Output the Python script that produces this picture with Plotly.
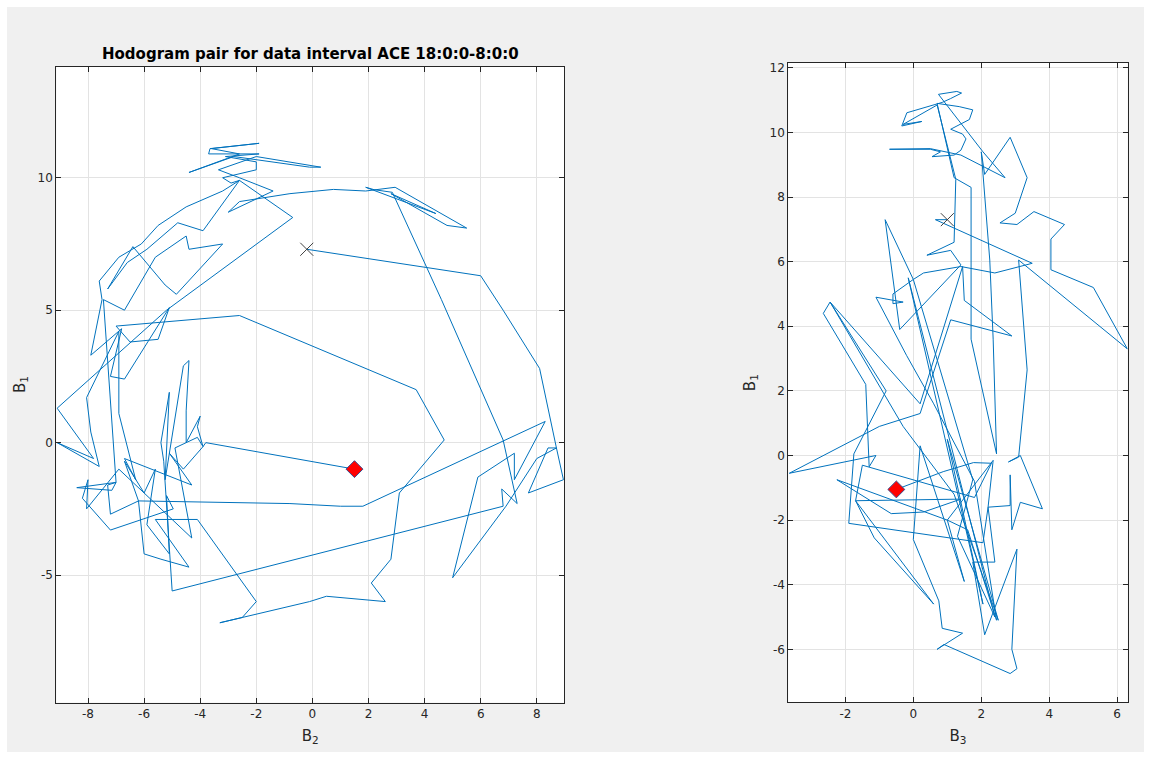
import plotly.graph_objects as go

# ---- hodogram data (nT) -------------------------------------------------
# left panel: B2 (x) against B1 (y)
b2 = [
    -0.2, 6.0, 6.8, 8.1, 8.7, 8.95, 7.7, 8.4, 8.7, 8.0, 6.9, 5.0, 5.9, 7.2, 7.2, 8.3,
    1.8, 1.0, -0.8, -6.2, -6.0, -5.4, -4.4, -5.6, -4.1, -2.0, -2.5, -3.3, -0.1, 0.5,
    2.6, 2.1, 2.8, 3.1, 4.7, 3.7, -2.6, -7.0, -6.5, -5.5, -5.1, -6.7, -7.2, -6.8,
    -7.9, -7.5, -7.6, -6.9, -6.1, -5.5, -4.5, -3.2, -2.6, -2.9, -3.2, -2.0, -2.0,
    -3.1, -1.9, -3.7, -3.65, -1.9, -3.6, -2.6, -4.4, -2.8, -0.1, 0.3, -2.0, -3.35,
    -2.6, -1.4, -3.0, -2.6, -0.8, 0.75, 1.9, 2.95, 5.5, 4.8, 2.8, 4.4, 1.9, 2.2,
    2.85, 4.6, 6.8, 7.3, 6.75, 6.8, -5.0, -5.3, -5.4, -5.1, -5.25, -4.6, -4.4, -4.5,
    -4.5, -4.0, -4.1, -3.9, -4.6, -5.1, -4.3, -6.7, -6.3, -6.9, -6.9, -8.05, -7.9,
    -7.6, -9.1, -7.8, -9.1, -5.2, -0.7, -2.6, -3.9, -4.8, -5.9, -6.6, -7.3, -6.4,
    -5.25, -4.85, -3.2, -4.4, -4.5, -5.6, -6.7, -7.45, -7.0, -8.4, -7.15, -7.0,
    -7.3, -7.2, -6.2, -6.7, -6.0, -5.6, -5.9, -5.1, -5.2, -4.96, -7.2, -8.2, -8.0,
    -8.05, -6.9, -4.3, -4.9, -4.1, -3.9, -3.8, 1.5,
]
b1_left = [
    7.3, 6.3, 5.0, 2.8, -0.2, -1.4, -1.9, -0.2, -0.2, -0.6, -2.4, -5.1, -1.3, -0.4,
    -1.4, 0.8, -2.4, -2.4, -2.3, -2.2, -4.2, -4.4, -4.7, -2.9, -2.9, -6.0, -6.6, -6.8,
    -6.0, -5.8, -6.0, -5.3, -4.4, -1.9, 0.1, 2.0, 4.8, 4.4, 3.8, 3.9, 5.1, 2.4, 2.5,
    4.3, 3.3, 5.4, 6.1, 7.0, 7.5, 8.2, 8.9, 9.5, 9.9, 9.8, 10.0, 10.3, 10.6, 10.8,
    10.9, 10.9, 11.1, 11.3, 11.1, 10.9, 10.2, 10.8, 10.4, 10.4, 10.8, 10.3, 10.0,
    9.5, 8.7, 9.1, 9.4, 9.56, 9.5, 9.64, 8.1, 8.2, 9.4, 8.65, 9.64, 9.55, 9.45, 5.4,
    0.1, -2.3, -1.75, -2.4, -5.6, -0.7, 0.0, 1.9, -1.4, 2.9, 3.1, 1.2, 0.0, 1.0, 0.6,
    -0.15, -1.0, -0.4, -1.6, -0.6, -1.4, 1.1, 4.2, 1.7, 0.4, -0.9, 0.0, -0.6, 1.3,
    5.0, 8.5, 9.9, 8.0, 8.3, 7.3, 6.8, 5.8, 7.4, 5.95, 5.6, 7.5, 7.3, 7.8, 7.0, 5.0,
    5.4, -1.5, -1.7, -1.8, -1.5, -1.6, -2.7, -2.2, -0.7, -1.9, -1.0, -3.1, -4.2, -2.0,
    -2.5, -3.3, -2.1, -1.4, -2.5, -1.0, -3.6, -0.2, 0.2, -0.15, 0.0, -1.0,
]

# right panel: B3 (x) against B1 (y)
b3 = [
    1.0, 0.65, 3.5, 2.4, 1.4, 0.3, 0.0, -0.6, -0.6, -0.3,
    -1.1, -0.2, 0.6, 1.8, 2.45, 1.6, 1.0, 1.5, 0.2, 0.0,
    0.75, 0.85, 1.45, 0.7, 0.9, 2.85, 3.05, 2.9, 3.05, 2.1,
    1.75, 2.4, 2.2, 2.85, 2.85, 2.9, 3.15, 3.8, 3.15, 2.8,
    3.1, 3.35, 3.1, 6.3, 5.3, 4.05, 4.05, 4.45, 3.55, 3.05,
    2.55, 3.0, 3.35, 2.85, 2.1, 2.0, 2.25, 2.35, 2.45, 1.7,
    1.7, 1.2, 0.7, 1.35, 1.75, 1.65, 1.1, 1.45, 1.55, 1.4,
    1.2, 0.55, 0.8, 0.5, -0.7, 0.5, 1.4, 2.7, 2.05, 0.9,
    0.74, 1.28, 1.42, 1.1, 0.85, -0.19, -0.34, 0.25, -0.3, 0.7,
    1.25, 1.2, 0.4, 1.1, 1.4, -0.4, -0.83, 0.0, 1.75, 1.3,
    2.4, -0.15, 2.05, 1.0, 2.5, 1.2, -0.3, -2.45, -2.65, -1.4,
    -1.3, -1.1, -3.65, -1.0, 0.2, 1.1, 2.9, 1.5, 1.45, 0.2,
    -2.45, -0.8, -1.75, -1.9, 2.05, 2.2, 2.35, 1.0, -2.25, -0.65,
    0.3, 1.4, -1.7, -1.15, 0.6, -1.7, -1.5, 1.8, 2.3, 1.77,
    0.88, -0.5,
]
b1_right = [
    7.3, 7.3, 5.95, 5.65, 5.85, 5.65, 5.45, 5.0, 4.7, 4.75,
    4.9, 3.1, 1.6, -0.8, -5.1, -2.3, -2.0, -3.9, 0.3, -2.6,
    -4.5, -5.35, -5.5, -6.0, -5.85, -6.75, -6.6, -6.0, -2.9, -5.55,
    -3.3, -3.3, -1.6, -1.55, -0.6, -2.3, -1.45, -1.65, 0.0, -0.2,
    -0.05, 2.65, 6.05, 3.3, 5.2, 5.75, 6.7, 7.15, 7.55, 7.15,
    7.2, 7.5, 8.6, 9.85, 8.7, 9.4, 6.05, 3.6, 0.05, 3.6,
    8.3, 8.6, 10.9, 10.8, 10.7, 10.4, 10.1, 9.95, 9.8, 9.45,
    9.3, 9.25, 9.4, 9.48, 9.48, 9.5, 9.3, 8.6, 9.4, 10.95,
    11.18, 11.27, 11.22, 11.05, 10.93, 10.61, 10.2, 10.34, 10.25, 10.85,
    8.55, 6.6, 6.2, 6.35, 5.9, 3.9, 7.3, 5.45, -0.75, -2.5,
    -5.0, 5.5, -4.6, 0.5, -5.1, -1.2, 0.9, 4.75, 4.4, 2.2,
    -0.35, 0.0, -0.55, 0.9, 1.3, 4.2, 3.7, 4.8, 5.85, 1.6,
    4.75, 2.0, 0.05, -2.1, -2.7, -1.6, -0.15, -2.0, -0.75, -1.8,
    -1.75, -1.35, -1.4, -2.55, -4.6, -1.4, -0.3, -1.3, -0.24, -0.22,
    -0.5, -1.05,
]

left_xticks = [-8, -6, -4, -2, 0, 2, 4, 6, 8]
left_yticks = [-5, 0, 5, 10]
right_xticks = [-2, 0, 2, 4, 6]
right_yticks = [-6, -4, -2, 0, 2, 4, 6, 8, 10, 12]

TITLE = "Hodogram pair for data interval ACE 18:0:0-8:0:0"

LINE_BLUE = "#0072BD"
AX_COLOR = "#262626"
FONT = "DejaVu Sans"
W, H = 1151, 759

fig = go.Figure()


def add_hodogram(xs, ys, xa, ya):
    fig.add_trace(go.Scatter(x=xs, y=ys, mode="lines", xaxis=xa, yaxis=ya,
                             line=dict(color=LINE_BLUE, width=1),
                             hoverinfo="skip", showlegend=False))
    # start of interval
    fig.add_trace(go.Scatter(x=[xs[0]], y=[ys[0]], mode="markers", xaxis=xa, yaxis=ya,
                             marker=dict(symbol="x-thin", size=13,
                                         line=dict(color="#404040", width=1)),
                             showlegend=False))
    # end of interval
    fig.add_trace(go.Scatter(x=[xs[-1]], y=[ys[-1]], mode="markers", xaxis=xa, yaxis=ya,
                             marker=dict(symbol="diamond", size=13, color="#ff0000",
                                         line=dict(color="#3b4a8c", width=1)),
                             showlegend=False))


add_hodogram(b2, b1_left, "x", "y")
add_hodogram(b3, b1_right, "x2", "y2")


def axis_style(tickvals, rng, domain, anchor, title, standoff):
    return dict(
        domain=domain, range=rng, anchor=anchor, tickmode="array", tickvals=tickvals,
        ticktext=[str(v) for v in tickvals],
        ticks="inside", ticklen=5, tickwidth=1, tickcolor=AX_COLOR,
        showline=True, linecolor=AX_COLOR, linewidth=1, mirror="ticks",
        showgrid=True, gridcolor="#e3e3e3", gridwidth=1, zeroline=False,
        tickfont=dict(family=FONT, size=12, color=AX_COLOR),
        title=dict(text=title, font=dict(family=FONT, size=15, color=AX_COLOR),
                   standoff=standoff),
        automargin=False, fixedrange=True,
    )


fig.update_layout(
    width=W, height=H,
    margin=dict(l=0, r=0, t=0, b=0),
    paper_bgcolor="#f0f0f0", plot_bgcolor="#ffffff",
    xaxis=axis_style(left_xticks, [-9.13, 8.97], [56.3 / W, 564 / W], "y",
                     "B<sub>2</sub>", 10),
    yaxis=axis_style(left_yticks, [-9.81, 14.2], [1 - 702.5 / H, 1 - 66.5 / H], "x",
                     "B<sub>1</sub>", 8),
    xaxis2=axis_style(right_xticks, [-3.68, 6.31], [788.3 / W, 1127.7 / W], "y2",
                      "B<sub>3</sub>", 10),
    yaxis2=axis_style(right_yticks, [-7.64, 12.15], [1 - 702.3 / H, 1 - 63 / H], "x2",
                      "B<sub>1</sub>", 10),
    annotations=[dict(text="<b>" + TITLE + "</b>", xref="paper", yref="paper",
                      x=310 / W, y=1 - 54 / H, xanchor="center", yanchor="middle",
                      showarrow=False, font=dict(family=FONT, size=15, color="#000000"))],
    shapes=[
        # thin white frame around the figure window
        dict(type="rect", xref="paper", yref="paper", x0=0, x1=1, y0=1 - 7 / H, y1=1,
             fillcolor="#ffffff", line=dict(width=0), layer="above"),
        dict(type="rect", xref="paper", yref="paper", x0=0, x1=1, y0=0, y1=7 / H,
             fillcolor="#ffffff", line=dict(width=0), layer="above"),
        dict(type="rect", xref="paper", yref="paper", x0=0, x1=7 / W, y0=0, y1=1,
             fillcolor="#ffffff", line=dict(width=0), layer="above"),
        dict(type="rect", xref="paper", yref="paper", x0=1 - 7 / W, x1=1, y0=0, y1=1,
             fillcolor="#ffffff", line=dict(width=0), layer="above"),
    ],
)

fig.write_html("out.html")
